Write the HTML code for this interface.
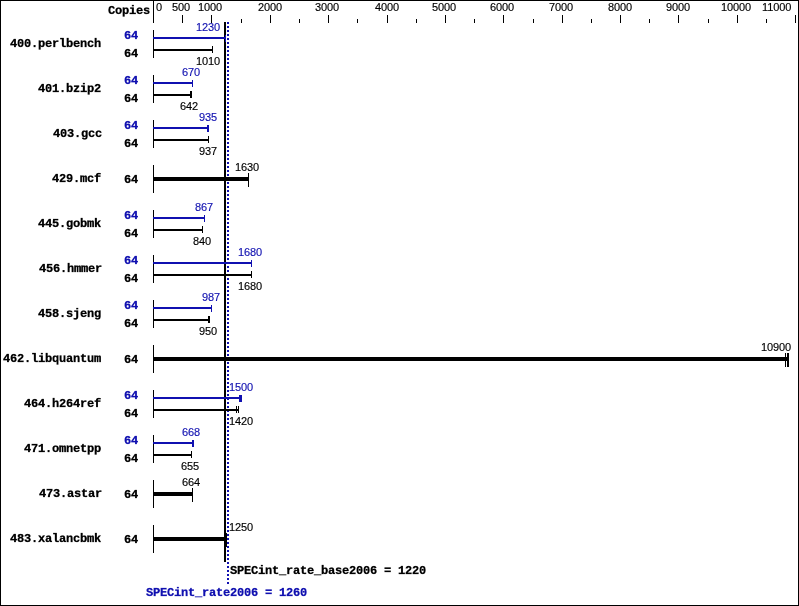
<!DOCTYPE html>
<html><head><meta charset="utf-8"><title>SPECint_rate2006</title>
<style>
html,body{margin:0;padding:0;background:#fff}
#c{position:relative;width:799px;height:606px;overflow:hidden;background:#fff}
#c div{position:absolute}
.r{}
.b{font:bold 24px/24px 'Liberation Mono', monospace;letter-spacing:-0.4px;-webkit-text-stroke-width:0.6px;transform:scale(0.5);transform-origin:0 0;will-change:transform;white-space:pre;will-change:transform}
.s{font:11px/11px 'Liberation Sans', sans-serif;letter-spacing:-0.12px;-webkit-text-stroke-width:0.15px;will-change:transform;white-space:pre;will-change:transform}
</style></head><body><div id="c">

<div style="left:0;top:0;width:797px;height:604px;border:1px solid #000"></div>
<div style="left:224px;top:22px;width:2px;height:540px;background:#000"></div>
<div style="left:227px;top:22px;width:2px;height:2px;background:#1010b0"></div>
<div style="left:227px;top:26px;width:2px;height:2px;background:#1010b0"></div>
<div style="left:227px;top:30px;width:2px;height:2px;background:#1010b0"></div>
<div style="left:227px;top:34px;width:2px;height:2px;background:#1010b0"></div>
<div style="left:227px;top:38px;width:2px;height:2px;background:#1010b0"></div>
<div style="left:227px;top:42px;width:2px;height:2px;background:#1010b0"></div>
<div style="left:227px;top:46px;width:2px;height:2px;background:#1010b0"></div>
<div style="left:227px;top:50px;width:2px;height:2px;background:#1010b0"></div>
<div style="left:227px;top:54px;width:2px;height:2px;background:#1010b0"></div>
<div style="left:227px;top:58px;width:2px;height:2px;background:#1010b0"></div>
<div style="left:227px;top:62px;width:2px;height:2px;background:#1010b0"></div>
<div style="left:227px;top:66px;width:2px;height:2px;background:#1010b0"></div>
<div style="left:227px;top:70px;width:2px;height:2px;background:#1010b0"></div>
<div style="left:227px;top:74px;width:2px;height:2px;background:#1010b0"></div>
<div style="left:227px;top:78px;width:2px;height:2px;background:#1010b0"></div>
<div style="left:227px;top:82px;width:2px;height:2px;background:#1010b0"></div>
<div style="left:227px;top:86px;width:2px;height:2px;background:#1010b0"></div>
<div style="left:227px;top:90px;width:2px;height:2px;background:#1010b0"></div>
<div style="left:227px;top:94px;width:2px;height:2px;background:#1010b0"></div>
<div style="left:227px;top:98px;width:2px;height:2px;background:#1010b0"></div>
<div style="left:227px;top:102px;width:2px;height:2px;background:#1010b0"></div>
<div style="left:227px;top:106px;width:2px;height:2px;background:#1010b0"></div>
<div style="left:227px;top:110px;width:2px;height:2px;background:#1010b0"></div>
<div style="left:227px;top:114px;width:2px;height:2px;background:#1010b0"></div>
<div style="left:227px;top:118px;width:2px;height:2px;background:#1010b0"></div>
<div style="left:227px;top:122px;width:2px;height:2px;background:#1010b0"></div>
<div style="left:227px;top:126px;width:2px;height:2px;background:#1010b0"></div>
<div style="left:227px;top:130px;width:2px;height:2px;background:#1010b0"></div>
<div style="left:227px;top:134px;width:2px;height:2px;background:#1010b0"></div>
<div style="left:227px;top:138px;width:2px;height:2px;background:#1010b0"></div>
<div style="left:227px;top:142px;width:2px;height:2px;background:#1010b0"></div>
<div style="left:227px;top:146px;width:2px;height:2px;background:#1010b0"></div>
<div style="left:227px;top:150px;width:2px;height:2px;background:#1010b0"></div>
<div style="left:227px;top:154px;width:2px;height:2px;background:#1010b0"></div>
<div style="left:227px;top:158px;width:2px;height:2px;background:#1010b0"></div>
<div style="left:227px;top:162px;width:2px;height:2px;background:#1010b0"></div>
<div style="left:227px;top:166px;width:2px;height:2px;background:#1010b0"></div>
<div style="left:227px;top:170px;width:2px;height:2px;background:#1010b0"></div>
<div style="left:227px;top:174px;width:2px;height:2px;background:#1010b0"></div>
<div style="left:227px;top:178px;width:2px;height:2px;background:#1010b0"></div>
<div style="left:227px;top:182px;width:2px;height:2px;background:#1010b0"></div>
<div style="left:227px;top:186px;width:2px;height:2px;background:#1010b0"></div>
<div style="left:227px;top:190px;width:2px;height:2px;background:#1010b0"></div>
<div style="left:227px;top:194px;width:2px;height:2px;background:#1010b0"></div>
<div style="left:227px;top:198px;width:2px;height:2px;background:#1010b0"></div>
<div style="left:227px;top:202px;width:2px;height:2px;background:#1010b0"></div>
<div style="left:227px;top:206px;width:2px;height:2px;background:#1010b0"></div>
<div style="left:227px;top:210px;width:2px;height:2px;background:#1010b0"></div>
<div style="left:227px;top:214px;width:2px;height:2px;background:#1010b0"></div>
<div style="left:227px;top:218px;width:2px;height:2px;background:#1010b0"></div>
<div style="left:227px;top:222px;width:2px;height:2px;background:#1010b0"></div>
<div style="left:227px;top:226px;width:2px;height:2px;background:#1010b0"></div>
<div style="left:227px;top:230px;width:2px;height:2px;background:#1010b0"></div>
<div style="left:227px;top:234px;width:2px;height:2px;background:#1010b0"></div>
<div style="left:227px;top:238px;width:2px;height:2px;background:#1010b0"></div>
<div style="left:227px;top:242px;width:2px;height:2px;background:#1010b0"></div>
<div style="left:227px;top:246px;width:2px;height:2px;background:#1010b0"></div>
<div style="left:227px;top:250px;width:2px;height:2px;background:#1010b0"></div>
<div style="left:227px;top:254px;width:2px;height:2px;background:#1010b0"></div>
<div style="left:227px;top:258px;width:2px;height:2px;background:#1010b0"></div>
<div style="left:227px;top:262px;width:2px;height:2px;background:#1010b0"></div>
<div style="left:227px;top:266px;width:2px;height:2px;background:#1010b0"></div>
<div style="left:227px;top:270px;width:2px;height:2px;background:#1010b0"></div>
<div style="left:227px;top:274px;width:2px;height:2px;background:#1010b0"></div>
<div style="left:227px;top:278px;width:2px;height:2px;background:#1010b0"></div>
<div style="left:227px;top:282px;width:2px;height:2px;background:#1010b0"></div>
<div style="left:227px;top:286px;width:2px;height:2px;background:#1010b0"></div>
<div style="left:227px;top:290px;width:2px;height:2px;background:#1010b0"></div>
<div style="left:227px;top:294px;width:2px;height:2px;background:#1010b0"></div>
<div style="left:227px;top:298px;width:2px;height:2px;background:#1010b0"></div>
<div style="left:227px;top:302px;width:2px;height:2px;background:#1010b0"></div>
<div style="left:227px;top:306px;width:2px;height:2px;background:#1010b0"></div>
<div style="left:227px;top:310px;width:2px;height:2px;background:#1010b0"></div>
<div style="left:227px;top:314px;width:2px;height:2px;background:#1010b0"></div>
<div style="left:227px;top:318px;width:2px;height:2px;background:#1010b0"></div>
<div style="left:227px;top:322px;width:2px;height:2px;background:#1010b0"></div>
<div style="left:227px;top:326px;width:2px;height:2px;background:#1010b0"></div>
<div style="left:227px;top:330px;width:2px;height:2px;background:#1010b0"></div>
<div style="left:227px;top:334px;width:2px;height:2px;background:#1010b0"></div>
<div style="left:227px;top:338px;width:2px;height:2px;background:#1010b0"></div>
<div style="left:227px;top:342px;width:2px;height:2px;background:#1010b0"></div>
<div style="left:227px;top:346px;width:2px;height:2px;background:#1010b0"></div>
<div style="left:227px;top:350px;width:2px;height:2px;background:#1010b0"></div>
<div style="left:227px;top:354px;width:2px;height:2px;background:#1010b0"></div>
<div style="left:227px;top:358px;width:2px;height:2px;background:#1010b0"></div>
<div style="left:227px;top:362px;width:2px;height:2px;background:#1010b0"></div>
<div style="left:227px;top:366px;width:2px;height:2px;background:#1010b0"></div>
<div style="left:227px;top:370px;width:2px;height:2px;background:#1010b0"></div>
<div style="left:227px;top:374px;width:2px;height:2px;background:#1010b0"></div>
<div style="left:227px;top:378px;width:2px;height:2px;background:#1010b0"></div>
<div style="left:227px;top:382px;width:2px;height:2px;background:#1010b0"></div>
<div style="left:227px;top:386px;width:2px;height:2px;background:#1010b0"></div>
<div style="left:227px;top:390px;width:2px;height:2px;background:#1010b0"></div>
<div style="left:227px;top:394px;width:2px;height:2px;background:#1010b0"></div>
<div style="left:227px;top:398px;width:2px;height:2px;background:#1010b0"></div>
<div style="left:227px;top:402px;width:2px;height:2px;background:#1010b0"></div>
<div style="left:227px;top:406px;width:2px;height:2px;background:#1010b0"></div>
<div style="left:227px;top:410px;width:2px;height:2px;background:#1010b0"></div>
<div style="left:227px;top:414px;width:2px;height:2px;background:#1010b0"></div>
<div style="left:227px;top:418px;width:2px;height:2px;background:#1010b0"></div>
<div style="left:227px;top:422px;width:2px;height:2px;background:#1010b0"></div>
<div style="left:227px;top:426px;width:2px;height:2px;background:#1010b0"></div>
<div style="left:227px;top:430px;width:2px;height:2px;background:#1010b0"></div>
<div style="left:227px;top:434px;width:2px;height:2px;background:#1010b0"></div>
<div style="left:227px;top:438px;width:2px;height:2px;background:#1010b0"></div>
<div style="left:227px;top:442px;width:2px;height:2px;background:#1010b0"></div>
<div style="left:227px;top:446px;width:2px;height:2px;background:#1010b0"></div>
<div style="left:227px;top:450px;width:2px;height:2px;background:#1010b0"></div>
<div style="left:227px;top:454px;width:2px;height:2px;background:#1010b0"></div>
<div style="left:227px;top:458px;width:2px;height:2px;background:#1010b0"></div>
<div style="left:227px;top:462px;width:2px;height:2px;background:#1010b0"></div>
<div style="left:227px;top:466px;width:2px;height:2px;background:#1010b0"></div>
<div style="left:227px;top:470px;width:2px;height:2px;background:#1010b0"></div>
<div style="left:227px;top:474px;width:2px;height:2px;background:#1010b0"></div>
<div style="left:227px;top:478px;width:2px;height:2px;background:#1010b0"></div>
<div style="left:227px;top:482px;width:2px;height:2px;background:#1010b0"></div>
<div style="left:227px;top:486px;width:2px;height:2px;background:#1010b0"></div>
<div style="left:227px;top:490px;width:2px;height:2px;background:#1010b0"></div>
<div style="left:227px;top:494px;width:2px;height:2px;background:#1010b0"></div>
<div style="left:227px;top:498px;width:2px;height:2px;background:#1010b0"></div>
<div style="left:227px;top:502px;width:2px;height:2px;background:#1010b0"></div>
<div style="left:227px;top:506px;width:2px;height:2px;background:#1010b0"></div>
<div style="left:227px;top:510px;width:2px;height:2px;background:#1010b0"></div>
<div style="left:227px;top:514px;width:2px;height:2px;background:#1010b0"></div>
<div style="left:227px;top:518px;width:2px;height:2px;background:#1010b0"></div>
<div style="left:227px;top:522px;width:2px;height:2px;background:#1010b0"></div>
<div style="left:227px;top:526px;width:2px;height:2px;background:#1010b0"></div>
<div style="left:227px;top:530px;width:2px;height:2px;background:#1010b0"></div>
<div style="left:227px;top:534px;width:2px;height:2px;background:#1010b0"></div>
<div style="left:227px;top:538px;width:2px;height:2px;background:#1010b0"></div>
<div style="left:227px;top:542px;width:2px;height:2px;background:#1010b0"></div>
<div style="left:227px;top:546px;width:2px;height:2px;background:#1010b0"></div>
<div style="left:227px;top:550px;width:2px;height:2px;background:#1010b0"></div>
<div style="left:227px;top:554px;width:2px;height:2px;background:#1010b0"></div>
<div style="left:227px;top:558px;width:2px;height:2px;background:#1010b0"></div>
<div style="left:227px;top:562px;width:2px;height:2px;background:#1010b0"></div>
<div style="left:227px;top:566px;width:2px;height:2px;background:#1010b0"></div>
<div style="left:227px;top:570px;width:2px;height:2px;background:#1010b0"></div>
<div style="left:227px;top:574px;width:2px;height:2px;background:#1010b0"></div>
<div style="left:227px;top:578px;width:2px;height:2px;background:#1010b0"></div>
<div style="left:227px;top:582px;width:2px;height:2px;background:#1010b0"></div>
<div style="left:153px;top:0px;width:1px;height:23px;background:#000"></div>
<div style="left:182px;top:15px;width:1px;height:8px;background:#000"></div>
<div style="left:211px;top:15px;width:1px;height:8px;background:#000"></div>
<div style="left:270px;top:15px;width:1px;height:8px;background:#000"></div>
<div style="left:328px;top:15px;width:1px;height:8px;background:#000"></div>
<div style="left:387px;top:15px;width:1px;height:8px;background:#000"></div>
<div style="left:445px;top:15px;width:1px;height:8px;background:#000"></div>
<div style="left:503px;top:15px;width:1px;height:8px;background:#000"></div>
<div style="left:562px;top:15px;width:1px;height:8px;background:#000"></div>
<div style="left:620px;top:15px;width:1px;height:8px;background:#000"></div>
<div style="left:678px;top:15px;width:1px;height:8px;background:#000"></div>
<div style="left:737px;top:15px;width:1px;height:8px;background:#000"></div>
<div style="left:795px;top:15px;width:1px;height:8px;background:#000"></div>
<div style="left:241px;top:19px;width:1px;height:4px;background:#000"></div>
<div style="left:299px;top:19px;width:1px;height:4px;background:#000"></div>
<div style="left:357px;top:19px;width:1px;height:4px;background:#000"></div>
<div style="left:416px;top:19px;width:1px;height:4px;background:#000"></div>
<div style="left:474px;top:19px;width:1px;height:4px;background:#000"></div>
<div style="left:533px;top:19px;width:1px;height:4px;background:#000"></div>
<div style="left:591px;top:19px;width:1px;height:4px;background:#000"></div>
<div style="left:649px;top:19px;width:1px;height:4px;background:#000"></div>
<div style="left:708px;top:19px;width:1px;height:4px;background:#000"></div>
<div style="left:766px;top:19px;width:1px;height:4px;background:#000"></div>
<div style="left:153px;top:30px;width:1px;height:28px;background:#000"></div>
<div style="left:153px;top:37px;width:73px;height:2px;background:#1010b0"></div>
<div style="left:225px;top:35px;width:1px;height:7px;background:#1010b0"></div>
<div style="left:153px;top:49px;width:60px;height:2px;background:#000"></div>
<div style="left:212px;top:46px;width:1px;height:7px;background:#000"></div>
<div style="left:153px;top:75px;width:1px;height:28px;background:#000"></div>
<div style="left:153px;top:82px;width:40px;height:2px;background:#1010b0"></div>
<div style="left:192px;top:80px;width:1px;height:7px;background:#1010b0"></div>
<div style="left:153px;top:94px;width:39px;height:2px;background:#000"></div>
<div style="left:190px;top:91px;width:1px;height:7px;background:#000"></div>
<div style="left:191px;top:91px;width:1px;height:7px;background:#000"></div>
<div style="left:153px;top:120px;width:1px;height:28px;background:#000"></div>
<div style="left:153px;top:127px;width:56px;height:2px;background:#1010b0"></div>
<div style="left:207px;top:125px;width:1px;height:7px;background:#1010b0"></div>
<div style="left:208px;top:125px;width:1px;height:7px;background:#1010b0"></div>
<div style="left:153px;top:139px;width:56px;height:2px;background:#000"></div>
<div style="left:208px;top:136px;width:1px;height:7px;background:#000"></div>
<div style="left:153px;top:165px;width:1px;height:28px;background:#000"></div>
<div style="left:153px;top:177px;width:96px;height:4px;background:#000"></div>
<div style="left:248px;top:173px;width:1px;height:14px;background:#000"></div>
<div style="left:153px;top:210px;width:1px;height:28px;background:#000"></div>
<div style="left:153px;top:217px;width:52px;height:2px;background:#1010b0"></div>
<div style="left:204px;top:215px;width:1px;height:7px;background:#1010b0"></div>
<div style="left:153px;top:229px;width:50px;height:2px;background:#000"></div>
<div style="left:202px;top:226px;width:1px;height:7px;background:#000"></div>
<div style="left:153px;top:255px;width:1px;height:28px;background:#000"></div>
<div style="left:153px;top:262px;width:99px;height:2px;background:#1010b0"></div>
<div style="left:251px;top:260px;width:1px;height:7px;background:#1010b0"></div>
<div style="left:153px;top:274px;width:99px;height:2px;background:#000"></div>
<div style="left:251px;top:271px;width:1px;height:7px;background:#000"></div>
<div style="left:153px;top:300px;width:1px;height:28px;background:#000"></div>
<div style="left:153px;top:307px;width:59px;height:2px;background:#1010b0"></div>
<div style="left:211px;top:305px;width:1px;height:7px;background:#1010b0"></div>
<div style="left:153px;top:319px;width:57px;height:2px;background:#000"></div>
<div style="left:208px;top:316px;width:1px;height:7px;background:#000"></div>
<div style="left:209px;top:316px;width:1px;height:7px;background:#000"></div>
<div style="left:153px;top:345px;width:1px;height:28px;background:#000"></div>
<div style="left:153px;top:357px;width:636px;height:4px;background:#000"></div>
<div style="left:785px;top:353px;width:1px;height:14px;background:#000"></div>
<div style="left:787px;top:353px;width:1px;height:14px;background:#000"></div>
<div style="left:788px;top:353px;width:1px;height:14px;background:#000"></div>
<div style="left:153px;top:390px;width:1px;height:28px;background:#000"></div>
<div style="left:153px;top:397px;width:89px;height:2px;background:#1010b0"></div>
<div style="left:239px;top:395px;width:1px;height:7px;background:#1010b0"></div>
<div style="left:240px;top:395px;width:1px;height:7px;background:#1010b0"></div>
<div style="left:241px;top:395px;width:1px;height:7px;background:#1010b0"></div>
<div style="left:153px;top:409px;width:86px;height:2px;background:#000"></div>
<div style="left:236px;top:406px;width:1px;height:7px;background:#000"></div>
<div style="left:238px;top:406px;width:1px;height:7px;background:#000"></div>
<div style="left:153px;top:435px;width:1px;height:28px;background:#000"></div>
<div style="left:153px;top:442px;width:41px;height:2px;background:#1010b0"></div>
<div style="left:192px;top:440px;width:1px;height:7px;background:#1010b0"></div>
<div style="left:193px;top:440px;width:1px;height:7px;background:#1010b0"></div>
<div style="left:153px;top:454px;width:39px;height:2px;background:#000"></div>
<div style="left:191px;top:451px;width:1px;height:7px;background:#000"></div>
<div style="left:153px;top:480px;width:1px;height:28px;background:#000"></div>
<div style="left:153px;top:492px;width:40px;height:4px;background:#000"></div>
<div style="left:192px;top:488px;width:1px;height:14px;background:#000"></div>
<div style="left:153px;top:525px;width:1px;height:28px;background:#000"></div>
<div style="left:153px;top:537px;width:74px;height:4px;background:#000"></div>
<div style="left:226px;top:533px;width:1px;height:14px;background:#000"></div>
<div class="b" style="left:108px;top:5px">Copies</div>
<div class="s" style="left:172px;top:2px">500</div>
<div class="s" style="left:198px;top:2px">1000</div>
<div class="s" style="left:258px;top:2px">2000</div>
<div class="s" style="left:315px;top:2px">3000</div>
<div class="s" style="left:375px;top:2px">4000</div>
<div class="s" style="left:432px;top:2px">5000</div>
<div class="s" style="left:490px;top:2px">6000</div>
<div class="s" style="left:549px;top:2px">7000</div>
<div class="s" style="left:608px;top:2px">8000</div>
<div class="s" style="left:666px;top:2px">9000</div>
<div class="s" style="left:721px;top:2px">10000</div>
<div class="s" style="left:762px;top:2px">11000</div>
<div class="s" style="left:156px;top:2px">0</div>
<div class="b" style="left:10px;top:38px">400.perlbench</div>
<div class="b" style="left:124px;top:30px;color:#1010b0">64</div>
<div class="s" style="left:196px;top:22px;color:#1010b0">1230</div>
<div class="b" style="left:124px;top:48px">64</div>
<div class="s" style="left:196px;top:56px">1010</div>
<div class="b" style="left:38px;top:83px">401.bzip2</div>
<div class="b" style="left:124px;top:75px;color:#1010b0">64</div>
<div class="s" style="left:182px;top:67px;color:#1010b0">670</div>
<div class="b" style="left:124px;top:93px">64</div>
<div class="s" style="left:180px;top:101px">642</div>
<div class="b" style="left:53px;top:128px">403.gcc</div>
<div class="b" style="left:124px;top:120px;color:#1010b0">64</div>
<div class="s" style="left:199px;top:112px;color:#1010b0">935</div>
<div class="b" style="left:124px;top:138px">64</div>
<div class="s" style="left:199px;top:146px">937</div>
<div class="b" style="left:52px;top:173px">429.mcf</div>
<div class="b" style="left:124px;top:174px">64</div>
<div class="s" style="left:235px;top:162px">1630</div>
<div class="b" style="left:38px;top:218px">445.gobmk</div>
<div class="b" style="left:124px;top:210px;color:#1010b0">64</div>
<div class="s" style="left:195px;top:202px;color:#1010b0">867</div>
<div class="b" style="left:124px;top:228px">64</div>
<div class="s" style="left:193px;top:236px">840</div>
<div class="b" style="left:39px;top:263px">456.hmmer</div>
<div class="b" style="left:124px;top:255px;color:#1010b0">64</div>
<div class="s" style="left:238px;top:247px;color:#1010b0">1680</div>
<div class="b" style="left:124px;top:273px">64</div>
<div class="s" style="left:238px;top:281px">1680</div>
<div class="b" style="left:38px;top:308px">458.sjeng</div>
<div class="b" style="left:124px;top:300px;color:#1010b0">64</div>
<div class="s" style="left:202px;top:292px;color:#1010b0">987</div>
<div class="b" style="left:124px;top:318px">64</div>
<div class="s" style="left:199px;top:326px">950</div>
<div class="b" style="left:3px;top:353px">462.libquantum</div>
<div class="b" style="left:124px;top:354px">64</div>
<div class="s" style="left:761px;top:342px">10900</div>
<div class="b" style="left:24px;top:398px">464.h264ref</div>
<div class="b" style="left:124px;top:390px;color:#1010b0">64</div>
<div class="s" style="left:229px;top:382px;color:#1010b0">1500</div>
<div class="b" style="left:124px;top:408px">64</div>
<div class="s" style="left:229px;top:416px">1420</div>
<div class="b" style="left:24px;top:443px">471.omnetpp</div>
<div class="b" style="left:124px;top:435px;color:#1010b0">64</div>
<div class="s" style="left:182px;top:427px;color:#1010b0">668</div>
<div class="b" style="left:124px;top:453px">64</div>
<div class="s" style="left:181px;top:461px">655</div>
<div class="b" style="left:39px;top:488px">473.astar</div>
<div class="b" style="left:124px;top:489px">64</div>
<div class="s" style="left:182px;top:477px">664</div>
<div class="b" style="left:10px;top:533px">483.xalancbmk</div>
<div class="b" style="left:124px;top:534px">64</div>
<div class="s" style="left:229px;top:522px">1250</div>
<div class="b" style="left:230px;top:565px">SPECint_rate_base2006 = 1220</div>
<div class="b" style="left:146px;top:587px;color:#1010b0">SPECint_rate2006 = 1260</div>
</div></body></html>
